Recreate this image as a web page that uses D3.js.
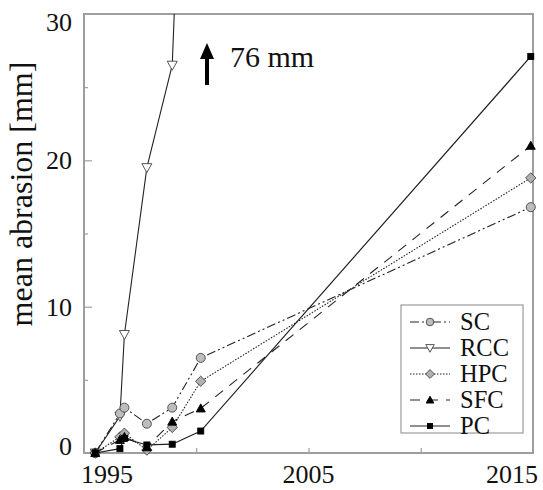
<!DOCTYPE html>
<html>
<head>
<meta charset="utf-8">
<script src="https://cdn.jsdelivr.net/npm/d3@7"></script>
<style>
  html, body { margin: 0; padding: 0; background: #fff; }
  svg { display: block; }
  text { font-family: "Liberation Serif", "Times New Roman", serif; fill: #111; }
</style>
</head>
<body>
<svg id="chart" width="543" height="490"></svg>
<script>
// Survey dates (decimal years) and mean abrasion per surface type, in mm
const years = [1995.5, 1996.6, 1996.8, 1997.8, 1998.93, 2000.2, 2014.9];
const scValues  = [0, 2.7, 3.1, 2.0, 3.1, 6.5, 16.8];
const rccValues = [0, 2.5, 8.1, 19.5, 26.5, 76];
const hpcValues = [0, 1.1, 1.35, 0.2, 1.75, 4.9, 18.8];
const sfcValues = [0, 0.9, 1.1, 0.4, 2.15, 3.05, 21.0];
const pcValues  = [0, 0.3, 1.0, 0.55, 0.6, 1.5, 27.1];
const seriesNames = ["SC", "RCC", "HPC", "SFC", "PC"];
const xTickLabels = [1995, 2005, 2015];
const yTickLabels = [0, 10, 20, 30];
const arrowNote = "76 mm";
const yTitle = "mean abrasion [mm]";

const styles = {
  SC:  { dash: "9,3,2,3,2,3", width: 1.1, marker: "circle",   fill: "#bdbdbd", r: 4.5 },
  RCC: { dash: null,          width: 1.1, marker: "triDown",  fill: "#fff",    r: 5 },
  HPC: { dash: "1.5,1.5",     width: 1.1, marker: "diamond",  fill: "#b0b0b0", r: 5.2 },
  SFC: { dash: "10,8",        width: 1.1, marker: "triUp",    fill: "#000",    r: 4.5 },
  PC:  { dash: null,          width: 1.2, marker: "square",   fill: "#000",    r: 3 }
};
const valuesByName = { SC: scValues, RCC: rccValues, HPC: hpcValues, SFC: sfcValues, PC: pcValues };

const svg = d3.select("#chart");
const L = 84, R = 533, T = 14, B = 453;

const x = d3.scaleLinear().domain([1995, 2015]).range([L, R]);
const y = d3.scaleLinear().domain([0, 30]).range([B, T]);

// clip region for lines running past the top of the frame
svg.append("defs").append("clipPath").attr("id", "plotClip")
  .append("rect").attr("x", L).attr("y", T).attr("width", R - L).attr("height", B - T);

// inward ticks: x every 5 years, y every 5 mm (longer at 10s)
const frameColor = "#9e9e9e";
const xTicks = svg.append("g").attr("transform", `translate(0,${B})`)
  .call(d3.axisBottom(x).tickValues([2000, 2005, 2010]).tickSize(-5).tickFormat(""));
xTicks.select(".domain").remove();
xTicks.selectAll("line").attr("stroke", frameColor).attr("stroke-width", 1.2);

const yMajor = svg.append("g").attr("transform", `translate(${L},0)`)
  .call(d3.axisLeft(y).tickValues([10, 20]).tickSize(-8).tickFormat(""));
yMajor.select(".domain").remove();
yMajor.selectAll("line").attr("stroke", frameColor).attr("stroke-width", 1.2);
const yMinor = svg.append("g").attr("transform", `translate(${L},0)`)
  .call(d3.axisLeft(y).tickValues([5, 15, 25]).tickSize(-4).tickFormat(""));
yMinor.select(".domain").remove();
yMinor.selectAll("line").attr("stroke", frameColor).attr("stroke-width", 1.2);

// frame
svg.append("rect").attr("x", L).attr("y", T).attr("width", R - L).attr("height", B - T)
  .attr("fill", "none").attr("stroke", frameColor).attr("stroke-width", 2);

// tick labels
svg.append("g").selectAll("text").data(xTickLabels).join("text")
  .attr("x", d => x(d))
  .attr("y", 483)
  .attr("text-anchor", (d, i) => i === 0 ? "start" : (i === xTickLabels.length - 1 ? "end" : "middle"))
  .attr("dx", (d, i) => i === 0 ? -3 : (i === xTickLabels.length - 1 ? 5 : 0))
  .attr("font-size", 26)
  .text(d => d);

svg.append("g").selectAll("text").data(yTickLabels).join("text")
  .attr("x", 72)
  .attr("y", d => y(d))
  .attr("dy", d => d === 30 ? 17 : (d === 0 ? 2 : 9))
  .attr("text-anchor", "end")
  .attr("font-size", 26)
  .text(d => d);

// y title
svg.append("text")
  .attr("transform", "translate(32,194) rotate(-90)")
  .attr("text-anchor", "middle")
  .attr("font-size", 32)
  .text(yTitle);

// marker shapes
function drawMarker(g, type, cx, cy, r, fill) {
  let el;
  if (type === "circle") {
    el = g.append("circle").attr("cx", cx).attr("cy", cy).attr("r", r);
  } else if (type === "square") {
    el = g.append("rect").attr("x", cx - r).attr("y", cy - r).attr("width", 2 * r).attr("height", 2 * r);
  } else if (type === "diamond") {
    el = g.append("path").attr("d", `M${cx},${cy - r}L${cx + r},${cy}L${cx},${cy + r}L${cx - r},${cy}Z`);
  } else if (type === "triDown") {
    el = g.append("path").attr("d", `M${cx - r},${cy - r * 0.8}L${cx + r},${cy - r * 0.8}L${cx},${cy + r}Z`);
  } else {
    el = g.append("path").attr("d", `M${cx - r},${cy + r * 0.8}L${cx + r},${cy + r * 0.8}L${cx},${cy - r}Z`);
  }
  el.attr("fill", fill).attr("stroke", fill === "#000" ? "#000" : "#444").attr("stroke-width", 0.9);
  return el;
}

const line = d3.line().x(d => x(d[0])).y(d => y(d[1]));
const plot = svg.append("g");
// draw back to front so PC ends up on top
const drawOrder = ["RCC", "SC", "HPC", "SFC", "PC"];
drawOrder.forEach(name => {
  const st = styles[name];
  const pts = valuesByName[name].map((v, i) => [years[i], v]);
  plot.append("path")
    .attr("clip-path", "url(#plotClip)")
    .attr("d", line(pts))
    .attr("fill", "none")
    .attr("stroke", "#222")
    .attr("stroke-width", st.width)
    .attr("stroke-dasharray", st.dash);
  const mg = plot.append("g");
  pts.forEach(p => {
    if (p[1] <= 30) drawMarker(mg, st.marker, x(p[0]), y(p[1]), st.r, st.fill);
  });
});

// arrow pointing to the off-scale RCC value
const ax = 207;
svg.append("line").attr("x1", ax).attr("x2", ax).attr("y1", 85).attr("y2", 55)
  .attr("stroke", "#000").attr("stroke-width", 4);
svg.append("path").attr("d", `M${ax - 7},${59}L${ax + 7},${59}L${ax},${43}Z`).attr("fill", "#000");
svg.append("text").attr("x", 230).attr("y", 67).attr("font-size", 30).text(arrowNote);

// legend
const lg = svg.append("g");
lg.append("rect").attr("x", 401).attr("y", 305).attr("width", 122).attr("height", 128)
  .attr("fill", "#fff").attr("stroke", "#888").attr("stroke-width", 1);
seriesNames.forEach((name, i) => {
  const st = styles[name];
  const cy = 322 + i * 26;
  lg.append("line").attr("x1", 410).attr("x2", 450).attr("y1", cy).attr("y2", cy)
    .attr("stroke", "#222").attr("stroke-width", st.width)
    .attr("stroke-dasharray", st.dash);
  drawMarker(lg, st.marker, 430, cy, st.r * 0.85, st.fill);
  lg.append("text").attr("x", 460).attr("y", cy + 8).attr("font-size", 24.5).text(name);
});
</script>
</body>
</html>
